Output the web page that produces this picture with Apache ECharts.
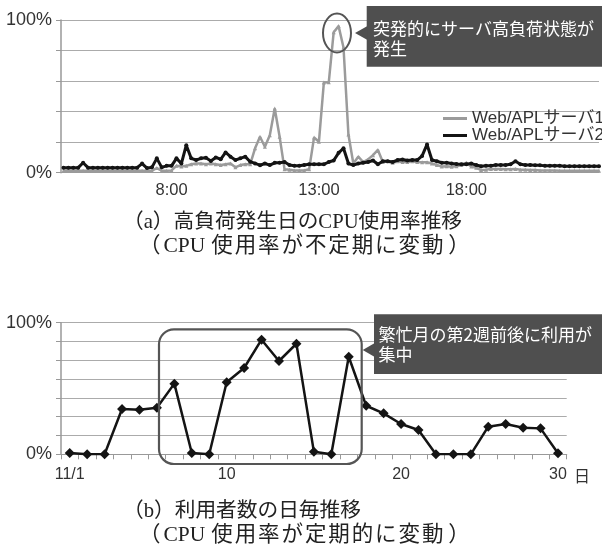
<!DOCTYPE html>
<html><head><meta charset="utf-8">
<script src="https://cdn.jsdelivr.net/npm/echarts@6/dist/echarts.min.js"></script>
<style>html,body{margin:0;padding:0;background:#fff}#c{width:602px;height:554px}</style>
</head><body><div id="c"></div>
<script>
// ---- top chart: CPU usage (%) every 10 minutes from 4:20 ----
const topStartMinutes = 260;
const topStepMinutes = 10;
const seriesNames = ['Web/APLサーバ1', 'Web/APLサーバ2'];
const server1 = [
  1.3,1.2,1.3,1.3,1.2,1.3,1.3,1.3,1.2,1.3,
  1.3,1.3,1.2,1.3,1.3,1.3,1.2,1.3,1.3,3,
  1.3,1.3,1.5,4.5,4,4.5,5.5,6,6,5.5,
  6,5.5,5,5.5,6,3.5,5,5.5,5.5,16,
  23.5,17,24.5,42,23.5,2.2,2,1.5,1.5,1.5,
  2.2,23,20.3,59,59.2,92,96,82,25,6,
  10.5,7,8.7,11.5,14.9,7,7.5,6.5,7.5,7,
  7,7.5,7,6.8,6.8,6,5,4,4.2,3.9,
  4.2,5,6.5,4,3.3,1.7,2,2.5,2.5,2.5,
  2.2,2.2,2.5,2,2,1.8,1.8,1.5,1.5,1.5,
  1.5,1.3,1.3,1.3,1.2,1.2,1.2,1.2,1.2,1.2
];
const server2 = [
  3.3,3.3,3.3,3.3,6.5,3.3,3.3,3.2,3.3,3.3,
  3.3,3.2,3.3,3.3,3.3,3.3,6,3,3.5,9.4,
  3.5,4.5,4.5,9.4,6,18,9.4,8.3,9.4,9.8,
  7.7,10,8.8,13.3,10.5,8.3,9.4,10.5,7.2,6.1,
  4.9,6,5,6.5,6.5,7,5,4.5,4.5,5,
  5.5,5.5,5.5,5.5,7,8,13,16,6,5,
  6,6.5,7,8,5.5,7.5,7.5,7,8.3,8.7,
  8,8.3,8.3,11,18.5,8.3,7.5,6.5,6.5,6,
  5.7,5.5,5.5,6,5,4.2,4.5,4.5,5,5,
  5,5.5,7.5,5.5,5,5,4.8,4.8,4.5,4.5,
  4.5,4.5,4.3,4.3,4.3,4.2,4.2,4.2,4.2,4.2
];
const topTickLabels = {480: '8:00', 780: '13:00', 1080: '18:00'};
const yTickLabels = {0: '0%', 100: '100%'};

// ---- bottom chart: daily users ----
const days = ['1','2','3','4','5','6','7','8','9','10','11','12','13','14','15',
  '16','17','18','19','20','21','22','23','24','25','26','27','28','29'];
const users = [1,0,0,34.4,33.9,35.4,53.7,1,0,54.7,65.6,87.1,70.9,84,2,0,74.1,
  36.9,31.1,23,18.5,0,0,0,21,23,20.2,19.7,0.8];
const dayTickLabels = {0: '11/1', 9: '10', 19: '20', 28: '30'};

const captionA = ['（a）高負荷発生日のCPU使用率推移', '（CPU使用率が不定期に変動）'];
const captionB = ['（b）利用者数の日毎推移', '（CPU使用率が定期的に変動）'];
const noteA = ['突発的にサーバ高負荷状態が', '発生'];
const noteB = ['繁忙月の第2週前後に利用が', '集中'];

const toPairs = arr => arr.map((v, i) => [topStartMinutes + i * topStepMinutes, v]);

const sans = '"Liberation Sans", "Noto Sans CJK JP", sans-serif';
const serifFamily = '"Liberation Serif", "Noto Sans CJK JP", serif';
const gridColor = '#ababab';
const axisColor = '#999';
const capSize = 20.7;
const capSize2 = 21.5;

function yLabel(v) {
  if (Math.abs(v) < 0.01) return yTickLabels[0];
  if (Math.abs(v - 100) < 0.01) return yTickLabels[100];
  return '';
}
function txt(text, x, y, font, fill, align) {
  return {type: 'text', x: x, y: y, z: 100,
    style: {text: text, font: font, fill: fill, align: align || 'left', verticalAlign: 'middle',
      textAlign: align || 'left', textVerticalAlign: 'middle'}};
}
// caption second line, set with the looser spacing of the printed caption
function spacedCaption(str, x, y) {
  let out = '', latin = '';
  const flush = () => { if (latin) { out += '{l|' + latin + '}'; latin = ''; } };
  for (const ch of str) {
    if (ch === '（') { flush(); out += '{p1|' + ch + '}'; }
    else if (ch === '）') { flush(); out += '{p2|' + ch + '}'; }
    else if (ch.charCodeAt(0) < 128) { latin += ch; }
    else { flush(); out += '{k|' + ch + '}'; }
  }
  flush();
  const base = {fontSize: capSize2, fontFamily: serifFamily, fill: '#222', color: '#222'};
  return {type: 'text', x: x, y: y, z: 100,
    style: {text: out, fontSize: capSize2, fontFamily: serifFamily, fill: '#222',
      verticalAlign: 'middle', textVerticalAlign: 'middle',
      rich: {
        p1: Object.assign({width: 24.5}, base),
        p2: Object.assign({padding: [0, 0, 0, 3]}, base),
        l: Object.assign({padding: [0, 6, 0, 0]}, base),
        k: Object.assign({width: 23.4}, base)
      }}};
}

const chart = echarts.init(document.getElementById('c'), null, {renderer: 'canvas'});
chart.setOption({
  animation: false,
  backgroundColor: '#fff',
  grid: [
    {left: 61, right: 1, top: 20, bottom: 381.3},
    {left: 61, right: 35.3, top: 322.7, bottom: 99.7}
  ],
  legend: {
    data: seriesNames, orient: 'vertical', left: 443, top: 110, padding: 0,
    itemGap: 0, itemWidth: 24, itemHeight: 3, icon: 'rect',
    textStyle: {fontSize: 17, color: '#333', fontFamily: sans, lineHeight: 13}
  },
  xAxis: [
    {type: 'value', gridIndex: 0, min: 255, max: 1350, interval: 15,
      axisLine: {show: true, lineStyle: {color: axisColor, width: 1.2}},
      axisTick: {show: false}, splitLine: {show: false},
      axisLabel: {formatter: v => topTickLabels[v] || '', fontSize: 16.5, color: '#333',
        fontFamily: sans, margin: 10, showMinLabel: true, showMaxLabel: true}},
    {type: 'category', gridIndex: 1, data: days, boundaryGap: true,
      axisLine: {lineStyle: {color: axisColor, width: 1.2}},
      axisTick: {show: true, interval: 0, length: 5, lineStyle: {color: axisColor}},
      axisLabel: {interval: 0, formatter: (v, i) => dayTickLabels[i] || '', fontSize: 16,
        color: '#333', fontFamily: sans, margin: 12}}
  ],
  yAxis: [
    {type: 'value', gridIndex: 0, min: 0, max: 100, interval: 20,
      axisLine: {show: true, lineStyle: {color: axisColor, width: 1.5}},
      axisTick: {show: true, length: 5, lineStyle: {color: axisColor}},
      splitLine: {lineStyle: {color: gridColor, width: 1.2}},
      axisLabel: {formatter: yLabel, fontSize: 18, color: '#333', fontFamily: sans, margin: 9}},
    {type: 'value', gridIndex: 1, min: 0, max: 100, interval: 100 / 7,
      axisLine: {show: true, lineStyle: {color: axisColor, width: 1.5}},
      axisTick: {show: true, length: 5, lineStyle: {color: axisColor}},
      splitLine: {lineStyle: {color: gridColor, width: 1.2}},
      axisLabel: {formatter: yLabel, fontSize: 18, color: '#333', fontFamily: sans, margin: 9}}
  ],
  series: [
    {name: seriesNames[0], type: 'line', xAxisIndex: 0, yAxisIndex: 0, data: toPairs(server1),
      color: '#9b9b9b', lineStyle: {width: 2.5}, symbol: 'triangle', symbolSize: 4, z: 2},
    {name: seriesNames[1], type: 'line', xAxisIndex: 0, yAxisIndex: 0, data: toPairs(server2),
      color: '#141414', lineStyle: {width: 3}, symbol: 'circle', symbolSize: 4, z: 3},
    {name: '利用者数', type: 'line', xAxisIndex: 1, yAxisIndex: 1, data: users,
      color: '#141414', lineStyle: {width: 2.5}, symbol: 'diamond', symbolSize: 10,
      showAllSymbol: true, z: 3}
  ],
  graphic: [
    // top annotation
    {type: 'ellipse', z: 100, shape: {cx: 337, cy: 33, rx: 14, ry: 19.5},
      style: {fill: 'none', stroke: '#555', lineWidth: 2}},
    {type: 'rect', z: 100, shape: {x: 366.7, y: 6, width: 240, height: 60.7},
      style: {fill: '#4f4f4f'}},
    {type: 'polygon', z: 100, shape: {points: [[355, 33], [367.5, 26], [367.5, 40]]},
      style: {fill: '#4f4f4f'}},
    txt(noteA[0], 373, 28.5, '17px "Noto Sans CJK JP", sans-serif', '#fff'),
    txt(noteA[1], 373, 48.5, '17px "Noto Sans CJK JP", sans-serif', '#fff'),
    // bottom annotation
    {type: 'rect', z: 100, shape: {x: 159, y: 329.3, width: 202.7, height: 134.7, r: 15},
      style: {fill: 'none', stroke: '#555', lineWidth: 2.2}},
    {type: 'rect', z: 100, shape: {x: 374, y: 314.3, width: 240, height: 59.7},
      style: {fill: '#4f4f4f'}},
    {type: 'polygon', z: 100, shape: {points: [[362.7, 350], [374.8, 343], [374.8, 357]]},
      style: {fill: '#4f4f4f'}},
    txt(noteB[0], 378.5, 335, '17px "Noto Sans CJK JP", sans-serif', '#fff'),
    txt(noteB[1], 378.5, 355, '17px "Noto Sans CJK JP", sans-serif', '#fff'),
    // axis unit
    txt('日', 574, 476, '16px "Noto Sans CJK JP", sans-serif', '#333'),
    // captions
    txt(captionA[0], 123, 223, capSize + 'px ' + serifFamily, '#222'),
    spacedCaption(captionA[1], 139, 246.7),
    txt(captionB[0], 123, 511.7, capSize + 'px ' + serifFamily, '#222'),
    spacedCaption(captionB[1], 139, 535)
  ]
});
</script>
</body></html>
